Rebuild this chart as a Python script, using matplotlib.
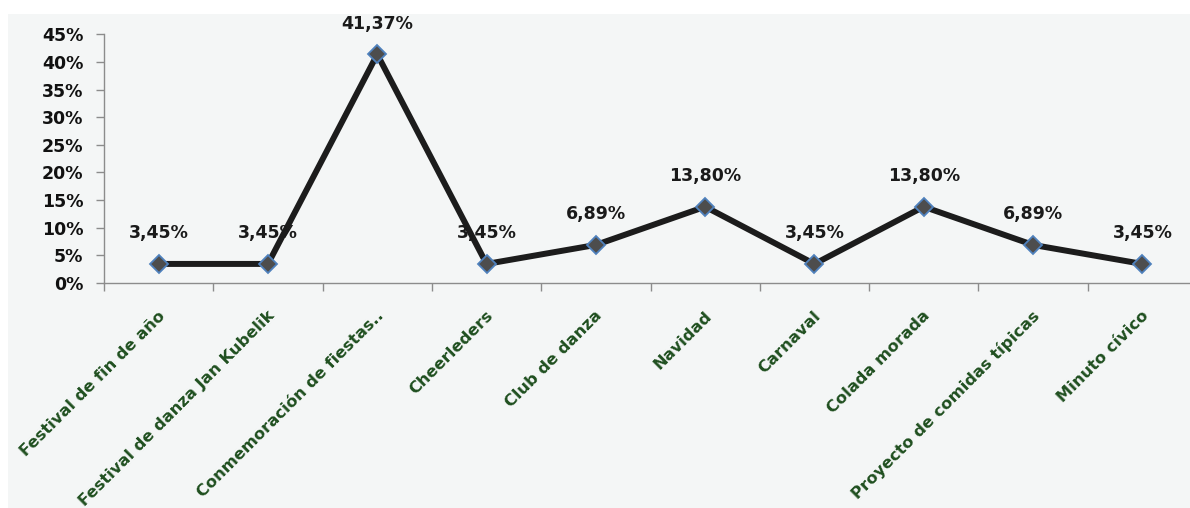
import matplotlib
matplotlib.use("Agg")
import matplotlib.pyplot as plt
import matplotlib.transforms as mtransforms
from matplotlib.patches import Rectangle
from matplotlib.ticker import FixedLocator, FuncFormatter
import numpy as np

categories = ["Festival de fin de año", "Festival de danza Jan Kubelik",
              "Conmemoración de fiestas..", "Cheerleders", "Club de danza",
              "Navidad", "Carnaval", "Colada morada",
              "Proyecto de comidas típicas", "Minuto cívico"]
values = [3.45, 3.45, 41.37, 3.45, 6.89, 13.80, 3.45, 13.80, 6.89, 3.45]
yticks = [0, 5, 10, 15, 20, 25, 30, 35, 40, 45]

W, H = 1190, 508
BG = "#f4f6f6"
GREEN = "#1f4f1f"
FS = 12.5
plt.rcParams["font.family"] = ["DejaVu Sans"]

fig = plt.figure(figsize=(W / 100, H / 100), dpi=100)
fig.patch.set_facecolor("white")
# grey chart panel, starts a little in from the top-left
fig.patches.append(Rectangle((8 / W, 0), 1, 1 - 14 / H, transform=fig.transFigure,
                             facecolor=BG, edgecolor="none", zorder=-10))

# plot area runs slightly past the right edge (the source image is cropped)
ax = fig.add_axes([104 / W, (H - 283) / H, 1093 / W, (283 - 34.3) / H])
ax.set_facecolor("none")

x = np.arange(len(categories))
ax.plot(x, values, color="#1c1c1c", lw=4.3, solid_joinstyle="miter", zorder=3,
        marker="D", ms=9, mfc="#4d4d4d", mec="#4f81bd", mew=1.3)

for xi, v in zip(x, values):
    ax.annotate(f"{v:.2f}%".replace(".", ","), (xi, v), xytext=(0, 22),
                textcoords="offset points", ha="center", va="center",
                fontsize=FS, fontweight="bold", color="#1a1a1a", zorder=4)

ax.set_xlim(-0.5, len(categories) - 0.5)
ax.set_ylim(0, 45)
ax.yaxis.set_major_locator(FixedLocator(yticks))
ax.yaxis.set_major_formatter(FuncFormatter(lambda v, p: f"{v:.0f}%"))
ax.tick_params(axis="y", length=6, width=1, color="#8c8c8c", pad=9,
               labelsize=FS, labelcolor="#111111")
for lab in ax.get_yticklabels():
    lab.set_fontweight("bold")

ax.set_xticks(x)
ax.set_xticklabels(categories, rotation=45, ha="right", va="center",
                   rotation_mode="anchor", fontsize=11.7, fontweight="bold",
                   color=GREEN)
ax.tick_params(axis="x", which="major", length=0, pad=22)
shift = mtransforms.ScaledTranslation(4 / 100, 0, fig.dpi_scale_trans)
for lab in ax.get_xticklabels():
    lab.set_transform(lab.get_transform() + shift)
ax.set_xticks(np.arange(-0.5, len(categories) + 0.5, 1), minor=True)
ax.tick_params(axis="x", which="minor", length=6, width=1, color="#8c8c8c")

for side in ["top", "right"]:
    ax.spines[side].set_visible(False)
for side in ["left", "bottom"]:
    ax.spines[side].set_color("#8c8c8c")
    ax.spines[side].set_linewidth(1)

fig.savefig("out.png", dpi=100, facecolor=fig.get_facecolor())
